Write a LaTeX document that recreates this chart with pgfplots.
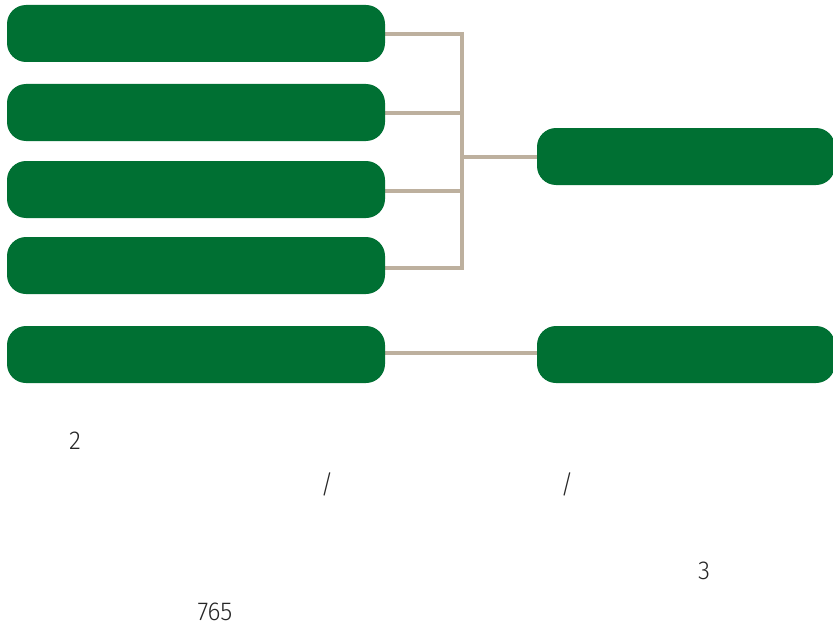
\documentclass[border=0pt]{standalone}
\usepackage{fontspec}
\setmainfont{Fira Sans}
\newfontfamily\narrowfont{Fira Sans Light}[FakeStretch=0.95]
\usepackage{pgfplots}
\pgfplotsset{compat=1.18}
\definecolor{boxgreen}{RGB}{0,112,51}
\definecolor{linktan}{RGB}{189,176,158}

\begin{document}
\begin{tikzpicture}[
    box/.style={fill=boxgreen, draw=none, rounded corners=19bp},
    link/.style={linktan, line width=4bp, no markers},
    lbl/.style={font=\narrowfont\fontsize{26}{28}\selectfont, text=black!85},
]
\begin{axis}[
    scale only axis,
    width=833bp, height=627bp,
    xmin=0, xmax=833, ymin=0, ymax=627,
    y dir=reverse,
    hide axis,
    clip=true,
]
    % connectors
    \addplot[link] coordinates {(385,34) (462,34)};
    \addplot[link] coordinates {(385,113) (462,113)};
    \addplot[link] coordinates {(385,191) (462,191)};
    \addplot[link] coordinates {(385,268) (462,268)};
    \addplot[link] coordinates {(462,32) (462,270)};
    \addplot[link] coordinates {(462,157) (540,157)};
    \addplot[link] coordinates {(385,353) (540,353)};

    % left boxes
    \addplot[box] coordinates {(7,5) (385,5) (385,62) (7,62)} -- cycle;
    \addplot[box] coordinates {(7,84) (385,84) (385,141) (7,141)} -- cycle;
    \addplot[box] coordinates {(7,161) (385,161) (385,218) (7,218)} -- cycle;
    \addplot[box] coordinates {(7,237) (385,237) (385,294) (7,294)} -- cycle;
    \addplot[box] coordinates {(7,326) (385,326) (385,383) (7,383)} -- cycle;
    % right boxes
    \addplot[box] coordinates {(537,128) (835,128) (835,185) (537,185)} -- cycle;
    \addplot[box] coordinates {(537,326) (835,326) (835,383) (537,383)} -- cycle;

    % stray labels
    \node[lbl] at (axis cs:75,441) {2};
    \node[lbl] at (axis cs:327,484) {/};
    \node[lbl] at (axis cs:567,484) {/};
    \node[lbl] at (axis cs:704,571) {3};
    \node[lbl] at (axis cs:215,612) {765};
\end{axis}
\pgfresetboundingbox
\useasboundingbox (current axis.south west) rectangle (current axis.north east);
\end{tikzpicture}
\end{document}
